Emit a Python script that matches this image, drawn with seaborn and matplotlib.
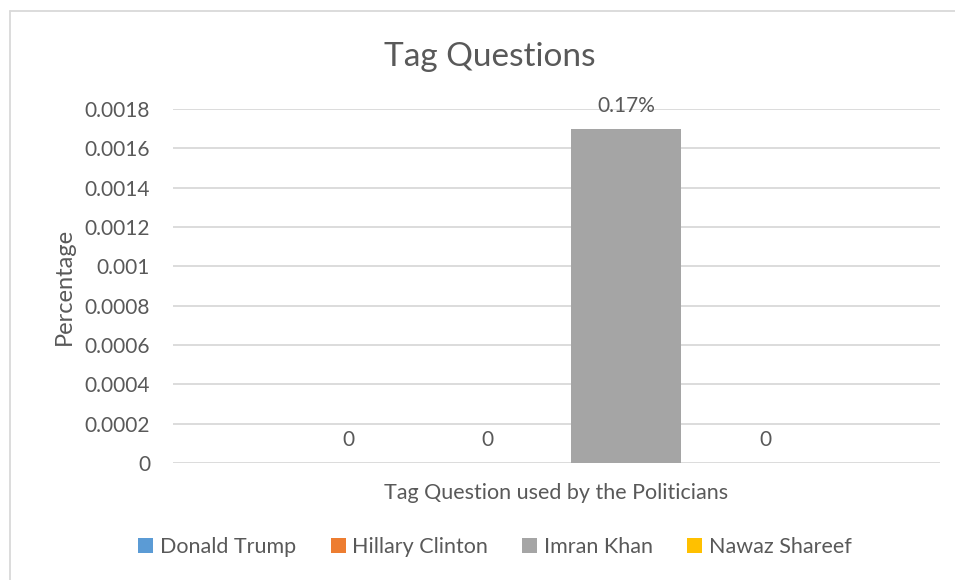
import matplotlib
matplotlib.use("Agg")
import matplotlib.pyplot as plt
from matplotlib.lines import Line2D
from matplotlib.patches import Patch
import seaborn as sns
import pandas as pd

# Data
category = "Tag Question used by the Politicians"
politicians = ["Donald Trump", "Hillary Clinton", "Imran Khan", "Nawaz Shareef"]
values = [0.0, 0.0, 0.0017, 0.0]
colors = ["#5B9BD5", "#ED7D31", "#A5A5A5", "#FFC000"]
y_ticks = [0, 0.0002, 0.0004, 0.0006, 0.0008, 0.001, 0.0012, 0.0014, 0.0016, 0.0018]
y_tick_labels = ["0", "0.0002", "0.0004", "0.0006", "0.0008", "0.001",
                 "0.0012", "0.0014", "0.0016", "0.0018"]

TEXT = "#595959"
GRID = "#D9D9D9"

sns.set_theme(style="white")
plt.rcParams["font.family"] = ["Lato", "DejaVu Sans"]

df = pd.DataFrame({"category": [category] * len(politicians),
                   "politician": politicians,
                   "value": values})

fig = plt.figure(figsize=(9.55, 5.8), dpi=100)
ax = fig.add_axes([173 / 955, 1 - 463 / 580, (940 - 173) / 955, (463 - 109) / 580])

sns.barplot(data=df, x="category", y="value", hue="politician",
            hue_order=politicians, palette=colors, width=0.725, gap=0.21,
            saturation=1, legend=False, linewidth=0, ax=ax)

ax.set_xlim(-0.5, 0.5)
ax.set_ylim(0, 0.0018)
ax.set_yticks(y_ticks)
ax.set_yticklabels(y_tick_labels, color=TEXT, fontsize=15)
ax.set_xticks([])
ax.set_xlabel("")
ax.set_ylabel("Percentage", color=TEXT, fontsize=17, labelpad=7)
ax.yaxis.grid(True, color=GRID, linewidth=1.3)
ax.set_axisbelow(True)
ax.tick_params(axis="y", length=0, pad=16.5)
for s in ax.spines.values():
    s.set_visible(False)

# Value labels over each bar
for container, v in zip(ax.containers, values):
    lab = "0" if v == 0 else f"{v:.2%}"
    ax.bar_label(container, labels=[lab], padding=9, color=TEXT, fontsize=15)

# Category label under the axis
ax.text(0.5, -0.085, category, transform=ax.transAxes, ha="center", va="center",
        color=TEXT, fontsize=15.5)

# Title
fig.text(490 / 955, 1 - 57 / 580, "Tag Questions", ha="center", va="center",
         color=TEXT, fontsize=24)

# Legend
handles = [Patch(facecolor=c, edgecolor="none") for c in colors]
fig.legend(handles, politicians, loc="center", bbox_to_anchor=(495 / 955, 1 - 547 / 580),
           ncol=4, frameon=False, fontsize=15.5, handlelength=0.7, handleheight=0.7,
           handletextpad=0.3, columnspacing=1.6, labelcolor=TEXT)

# Chart area border
fig.add_artist(Line2D([9.5 / 955, 9.5 / 955], [0, 1 - 11 / 580], color=GRID,
                      linewidth=1.3, transform=fig.transFigure))
fig.add_artist(Line2D([9.5 / 955, 1], [1 - 11 / 580, 1 - 11 / 580], color=GRID,
                      linewidth=1.3, transform=fig.transFigure))

fig.savefig("out.png", dpi=100, facecolor="white")
